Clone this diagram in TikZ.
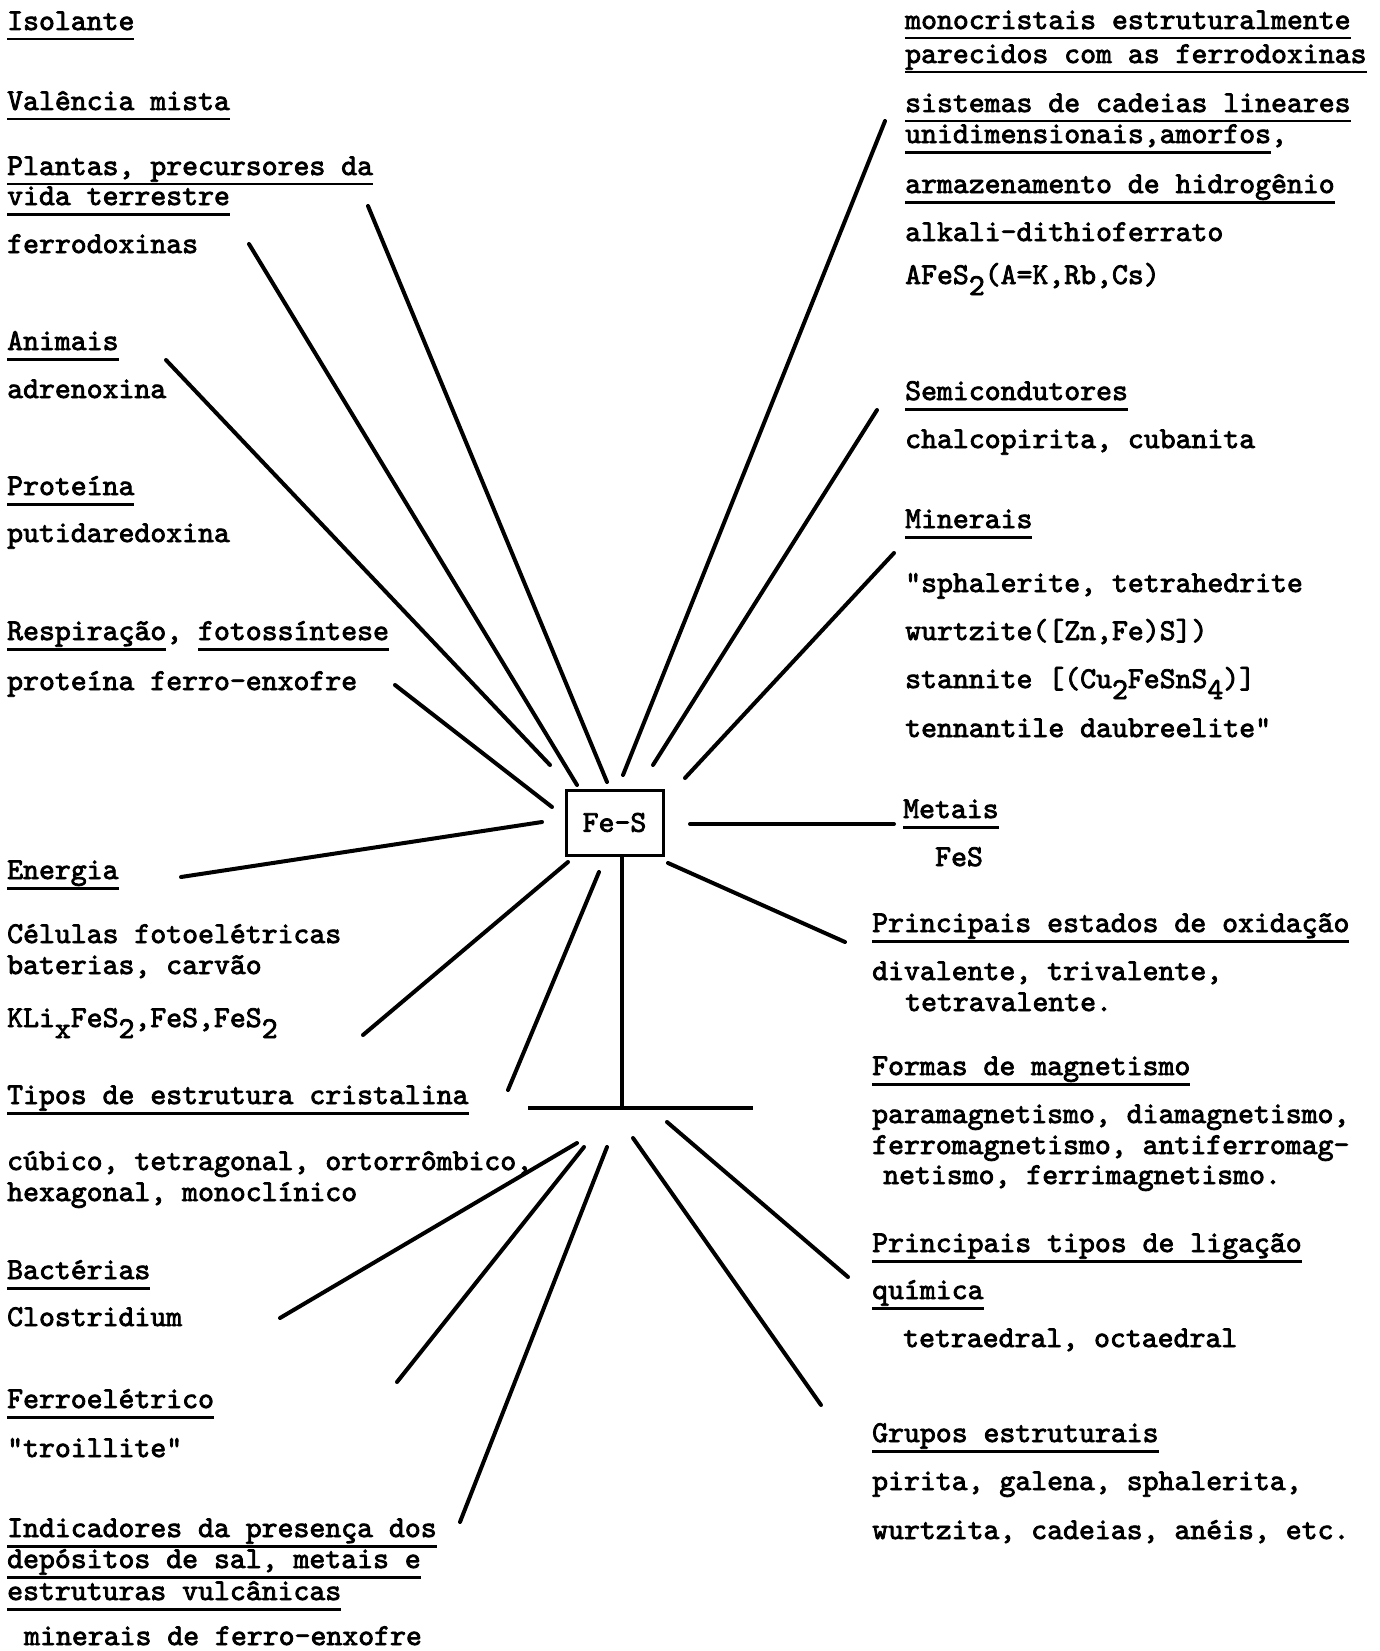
\documentclass[tikz,border=0pt]{standalone}
\usepackage{fontspec}
\setmonofont{lmmono10-regular.otf}[FakeBold=2.6]
% typewriter underline and half-line drop
\newcommand\ulseg[1]{\leavevmode\setbox0\hbox{#1}\rlap{\rule[-10.5pt]{\wd0}{2.8pt}}\box0}
\newcommand\lowr[1]{\raisebox{-11pt}{#1}}

\begin{document}
\begin{tikzpicture}[x=1pt,y=-1pt,
    txt/.style={anchor=base west,inner sep=0pt,font=\fontsize{30.3}{34}\selectfont\ttfamily},
    spoke/.style={line width=4pt,line cap=round}]

    \fill[white] (0,0) rectangle (1380,1651);
    \useasboundingbox (0,0) rectangle (1380,1651);

    % left column
    \node[txt] (isol) at (7,30) {\ulseg{Isolante}};
    \node[txt] (val) at (7,110) {\ulseg{Valência mista}};
    \node[txt] (plan) at (7,175) {\ulseg{Plantas, precursores da}};
    \node[txt] (vida) at (7,205) {\ulseg{vida terrestre}};
    \node[txt] (ferd) at (7,253) {ferrodoxinas};
    \node[txt] (anim) at (7,350) {\ulseg{Animais}};
    \node[txt] (adre) at (7,398) {adrenoxina};
    \node[txt] (prot) at (7,495) {\ulseg{Proteína}};
    \node[txt] (puti) at (7,542) {putidaredoxina};
    \node[txt] (resp) at (7,640) {\ulseg{Respiração}, \ulseg{fotossíntese}};
    \node[txt] (pfe) at (7,690) {proteína ferro-enxofre};
    \node[txt] (ener) at (7,879) {\ulseg{Energia}};
    \node[txt] (celu) at (7,943) {Células fotoelétricas};
    \node[txt] (bate) at (7,974) {baterias, carvão};
    \node[txt] (kli) at (7,1027) {KLi\lowr{x}FeS\lowr{2},FeS,FeS\lowr{2}};
    \node[txt] (tipo) at (7,1104) {\ulseg{Tipos de estrutura cristalina}};
    \node[txt] (cubi) at (7,1170) {cúbico, tetragonal, ortorrômbico,};
    \node[txt] (hexa) at (7,1201) {hexagonal, monoclínico};
    \node[txt] (bact) at (7,1279) {\ulseg{Bactérias}};
    \node[txt] (clos) at (7,1326) {Clostridium};
    \node[txt] (fele) at (7,1408) {\ulseg{Ferroelétrico}};
    \node[txt] (troi) at (7,1457) {"troillite"};
    \node[txt] (indi) at (7,1537) {\ulseg{Indicadores da presença dos}};
    \node[txt] (depo) at (7,1568) {\ulseg{depósitos de sal, metais e}};
    \node[txt] (estr) at (7,1600) {\ulseg{estruturas vulcânicas}};
    \node[txt] (mfe) at (24,1645) {minerais de ferro-enxofre};

    % right column
    \node[txt] (mono) at (905,29) {\ulseg{monocristais estruturalmente}};
    \node[txt] (pare) at (905,63) {\ulseg{parecidos com as ferrodoxinas}};
    \node[txt] (sist) at (905,112) {\ulseg{sistemas de cadeias lineares}};
    \node[txt] (unid) at (905,143) {\ulseg{unidimensionais,amorfos} ,};
    \node[txt] (arma) at (905,193) {\ulseg{armazenamento de hidrogênio}};
    \node[txt] (alka) at (905,241) {alkali-dithioferrato};
    \node[txt] (afes) at (905,284) {AFeS\lowr{2}(A=K,Rb,Cs)};
    \node[txt] (semi) at (905,400) {\ulseg{Semicondutores}};
    \node[txt] (chal) at (905,448) {chalcopirita, cubanita};
    \node[txt] (minr) at (905,528) {\ulseg{Minerais}};
    \node[txt] (spha) at (905,592) {"sphalerite, tetrahedrite};
    \node[txt] (wurt) at (905,640) {wurtzite([Zn,Fe)S])};
    \node[txt] (stan) at (905,688) {stannite [(Cu\lowr{2}FeSnS\lowr{4})]};
    \node[txt] (tenn) at (905,737) {tennantile daubreelite"};
    \node[txt] (meta) at (903,818) {\ulseg{Metais}};
    \node[txt] (fes2) at (935,866) {FeS};
    \node[txt] (oxid) at (872,932) {\ulseg{Principais estados de oxidação}};
    \node[txt] (diva) at (872,980) {divalente, trivalente,};
    \node[txt] (tetv) at (905,1011) {tetravalente.};
    \node[txt] (form) at (872,1075) {\ulseg{Formas de magnetismo}};
    \node[txt] (para) at (872,1123) {paramagnetismo, diamagnetismo,};
    \node[txt] (ferm) at (872,1154) {ferromagnetismo, antiferromag-};
    \node[txt] (neti) at (883,1184) {netismo, ferrimagnetismo.};
    \node[txt] (liga) at (872,1252) {\ulseg{Principais tipos de ligação}};
    \node[txt] (quim) at (872,1299) {\ulseg{química}};
    \node[txt] (tetr) at (903,1347) {tetraedral, octaedral};
    \node[txt] (grup) at (872,1442) {\ulseg{Grupos estruturais}};
    \node[txt] (piri) at (872,1490) {pirita, galena, sphalerita,};
    \node[txt] (wurz) at (872,1539) {wurtzita, cadeias, anéis, etc.};

    % centre
    \node[txt,anchor=center,draw,line width=3pt,minimum width=97pt,minimum height=65pt]
        (fes) at (614.5,822.5) {Fe–S};
    \coordinate (junc) at (622,1108);
    \coordinate (barL) at (528,1108);
    \coordinate (barR) at (753,1108);
    \draw[line width=3.5pt] (fes.south -| junc) -- (junc);
    \draw[line width=3.5pt] (barL) -- (barR);

    % spokes
    \coordinate (ani-i) at (550,765);  \coordinate (ani-o) at (166,360);
    \coordinate (fer-i) at (577,785);  \coordinate (fer-o) at (249,244);
    \coordinate (pla-i) at (607,782);  \coordinate (pla-o) at (368,206);
    \coordinate (res-i) at (552,807);  \coordinate (res-o) at (395,685);
    \coordinate (ene-i) at (542,822);  \coordinate (ene-o) at (181,877);
    \coordinate (kli-i) at (568,862);  \coordinate (kli-o) at (363,1035);
    \coordinate (tip-i) at (599,872);  \coordinate (tip-o) at (508,1090);
    \coordinate (mon-i) at (623,775);  \coordinate (mon-o) at (885,121);
    \coordinate (sem-i) at (653,765);  \coordinate (sem-o) at (877,410);
    \coordinate (min-i) at (685,778);  \coordinate (min-o) at (894,553);
    \coordinate (met-i) at (690,824);  \coordinate (met-o) at (894,824);
    \coordinate (oxi-i) at (668,863);  \coordinate (oxi-o) at (845,942);
    \coordinate (bac-i) at (577,1143); \coordinate (bac-o) at (280,1318);
    \coordinate (fel-i) at (584,1147); \coordinate (fel-o) at (397,1382);
    \coordinate (ind-i) at (607,1147); \coordinate (ind-o) at (460,1522);
    \coordinate (gru-i) at (633,1138); \coordinate (gru-o) at (821,1405);
    \coordinate (lig-i) at (667,1122); \coordinate (lig-o) at (848,1277);
    \foreach \n in {ani,fer,pla,res,ene,kli,tip,mon,sem,min,met,oxi,bac,fel,ind,gru,lig}
        \draw[spoke] (\n-i) -- (\n-o);
\end{tikzpicture}
\end{document}
